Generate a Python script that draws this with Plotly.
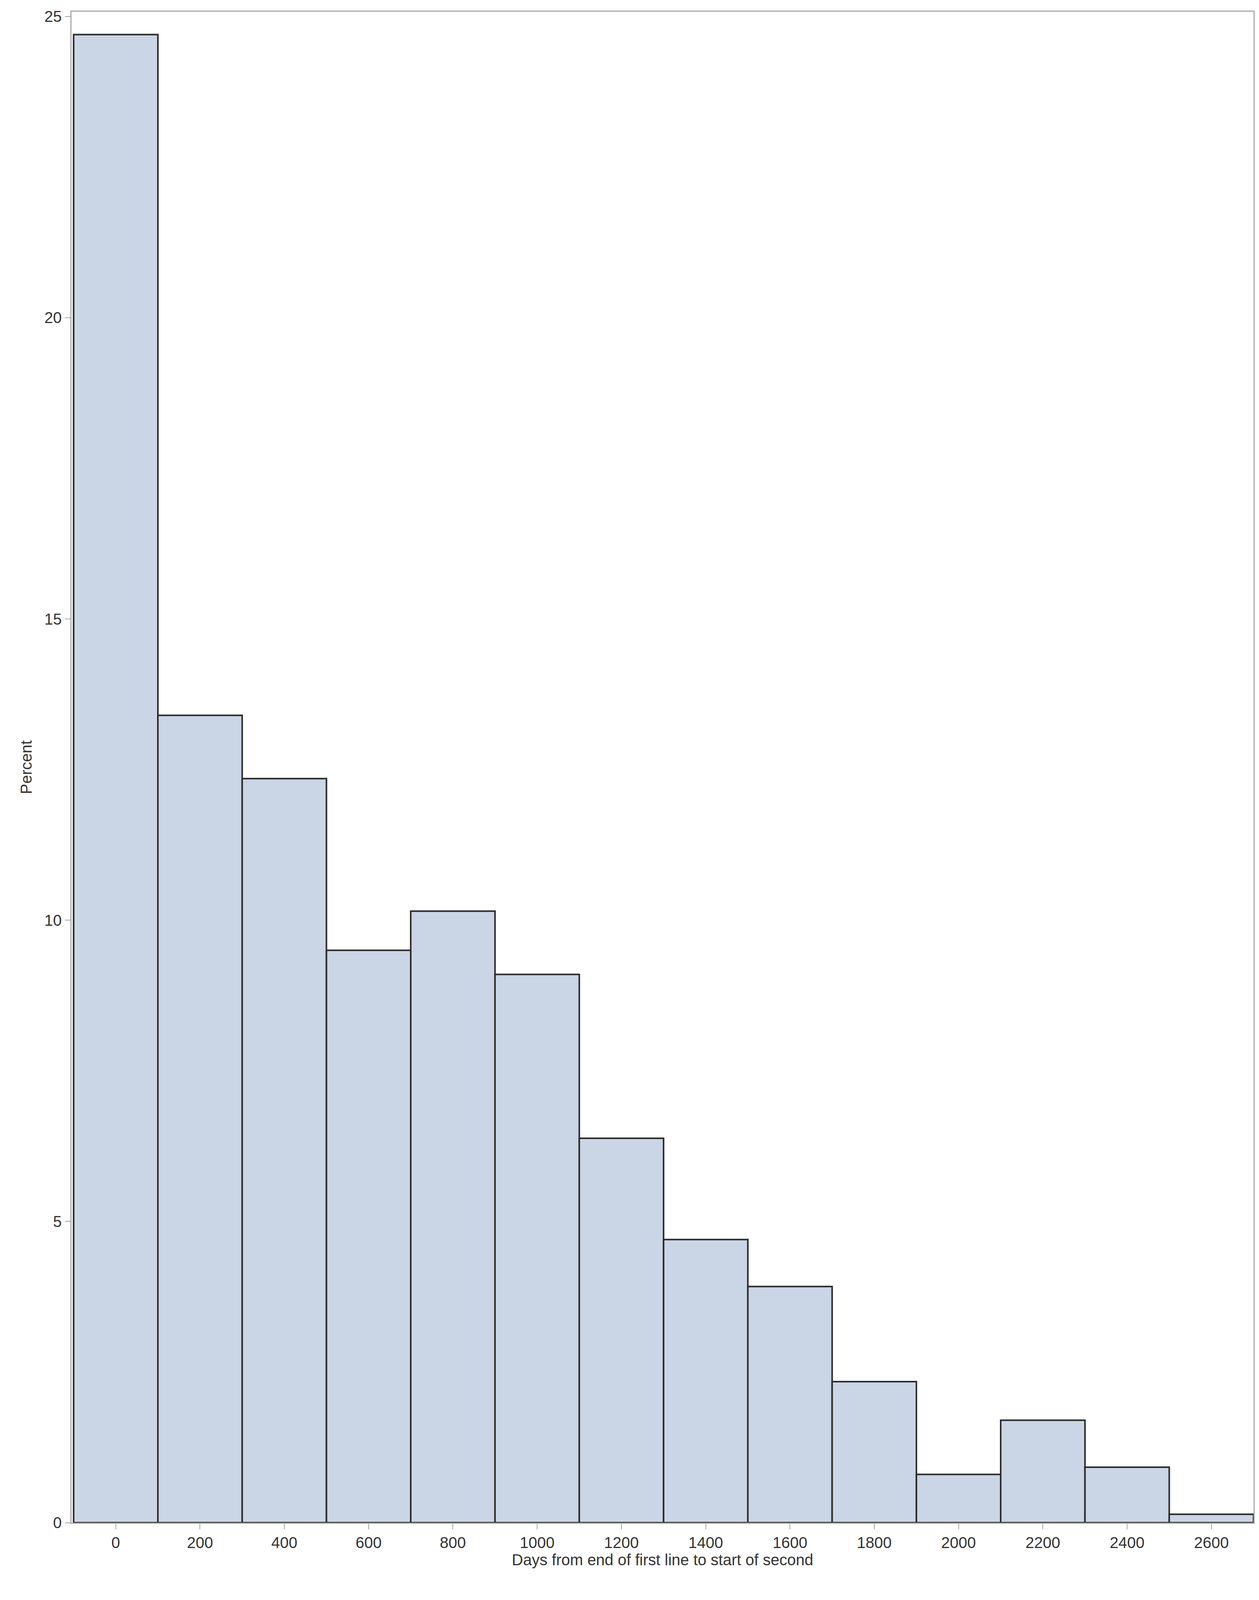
import plotly.graph_objects as go

bin_centers = [0, 200, 400, 600, 800, 1000, 1200, 1400, 1600, 1800, 2000, 2200, 2400, 2600]
percent = [24.7, 13.4, 12.35, 9.5, 10.15, 9.1, 6.38, 4.7, 3.92, 2.34, 0.8, 1.7, 0.92, 0.14]
x_ticks = list(range(0, 2601, 200))
y_ticks = [0, 5, 10, 15, 20, 25]

fig = go.Figure(go.Bar(
    x=bin_centers, y=percent, width=200,
    marker=dict(color="#CAD5E5", line=dict(color="#2b2b2b", width=4)),
))

axis_font = dict(family="Arial, Liberation Sans", size=40, color="#333333")
fig.update_layout(
    width=3222, height=4150,
    margin=dict(l=175, r=22, t=14, b=260),
    plot_bgcolor="white", paper_bgcolor="white",
    showlegend=False,
    xaxis=dict(range=[-105, 2700], tickvals=x_ticks, ticks="outside", ticklen=14,
               tickcolor="#555555", tickfont=axis_font,
               title=dict(text="Days from end of first line to start of second", font=axis_font, standoff=8),
               showgrid=False, showline=True, linecolor="#aaaaaa", linewidth=3, mirror=True, zeroline=False),
    yaxis=dict(range=[0, 25.08], tickvals=y_ticks, ticks="outside", ticklen=14,
               tickcolor="#555555", tickfont=axis_font,
               title=dict(text="Percent", font=axis_font, standoff=20),
               showgrid=False, showline=True, linecolor="#aaaaaa", linewidth=3, mirror=True, zeroline=False),
)

fig.write_html("out.html")
